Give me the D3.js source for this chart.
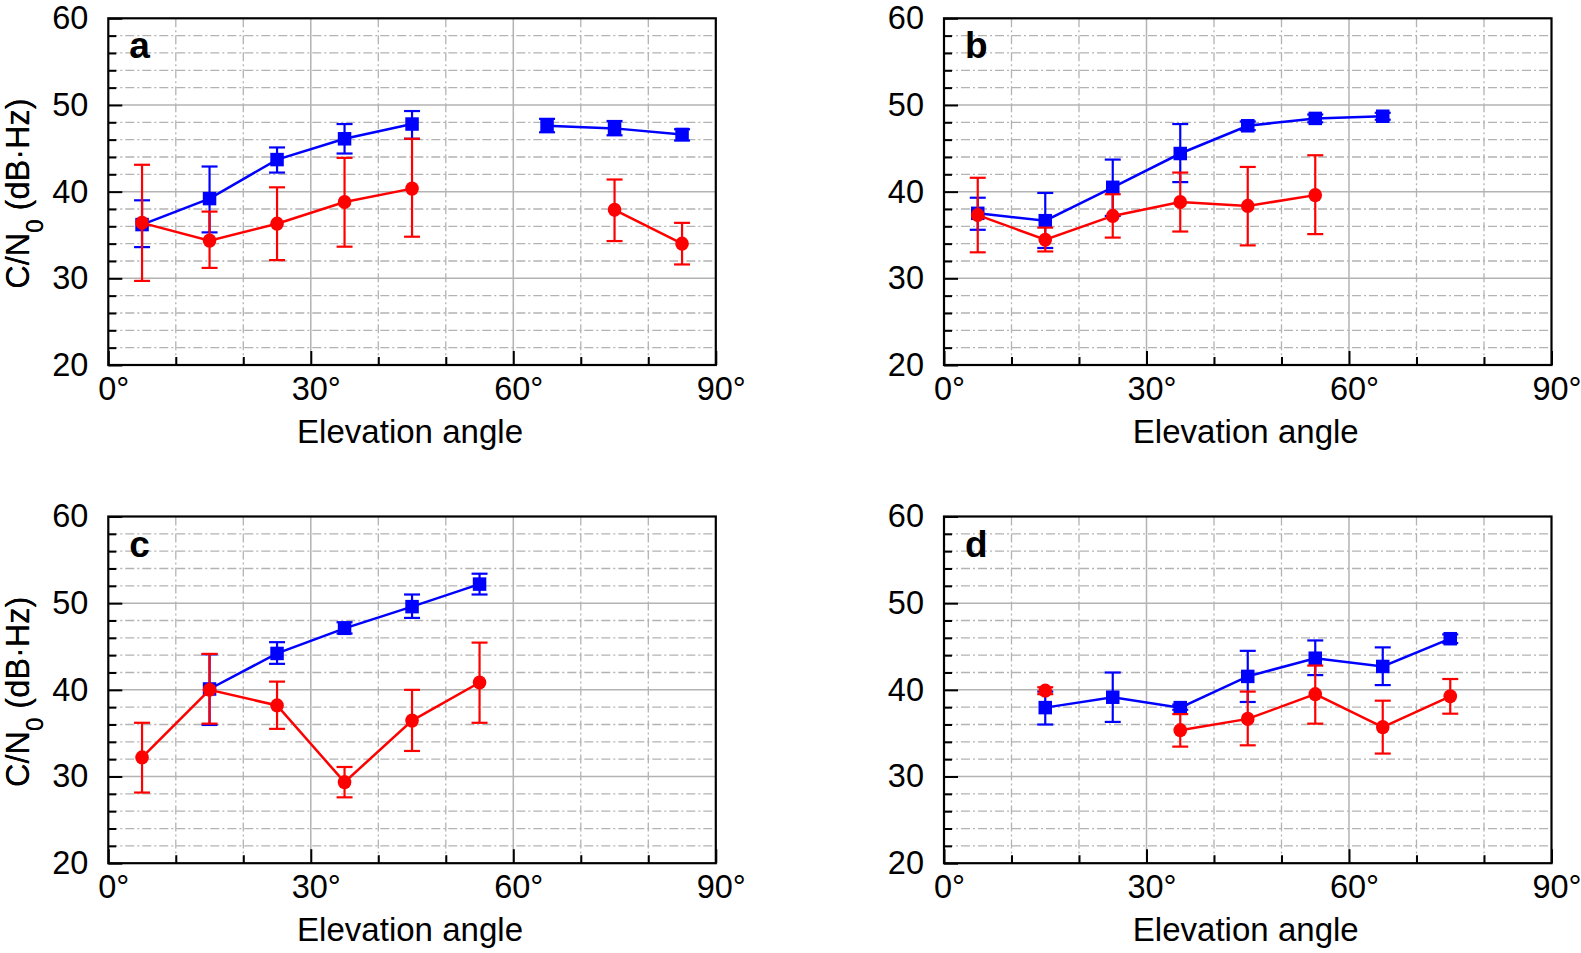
<!DOCTYPE html>
<html>
<head>
<meta charset="utf-8">
<script src="https://cdn.jsdelivr.net/npm/d3@7"></script>
<style>
  html, body { margin: 0; padding: 0; background: #fff; }
  svg { display: block; font-family: "Liberation Sans", Arial, sans-serif; }
</style>
</head>
<body>
<svg id="chart" width="1581" height="953"></svg>
<script>
// ---------- data ----------
const angles = [5, 15, 25, 35, 45, 55, 65, 75, 85];
const xTickLabels = ["0°", "30°", "60°", "90°"];
const yTickLabels = ["20", "30", "40", "50", "60"];
const panelLetters = ["a", "b", "c", "d"];

// panel a
const blueA   = [36.2, 39.2, 43.7, 46.1, 47.8, null, 47.6, 47.3, 46.6];
const blueALo = [33.6, 35.3, 42.2, 44.4, 46.1, null, 46.85, 46.5, 45.9];
const blueAHi = [39.0, 42.9, 45.1, 47.8, 49.3, null, 48.4, 48.15, 47.2];
const redA    = [36.4, 34.35, 36.3, 38.8, 40.35, null, null, 37.9, 34.0];
const redALo  = [29.7, 31.2, 32.1, 33.65, 34.8, null, null, 34.3, 31.6];
const redAHi  = [43.1, 37.7, 40.5, 43.9, 46.1, null, null, 41.4, 36.4];

// panel b
const blueB   = [37.5, 36.65, 40.5, 44.4, 47.6, 48.45, 48.7, null, null];
const blueBLo = [35.6, 33.5, 37.2, 41.1, 47.1, 48.0, 48.3, null, null];
const blueBHi = [39.3, 39.85, 43.7, 47.8, 48.1, 48.9, 49.1, null, null];
const redB    = [37.3, 34.45, 37.2, 38.8, 38.35, 39.6, null, null, null];
const redBLo  = [33.0, 33.1, 34.7, 35.4, 33.8, 35.1, null, null, null];
const redBHi  = [41.6, 35.85, 39.7, 42.2, 42.85, 44.2, null, null, null];

// panel c
const blueC   = [null, 40.1, 44.2, 47.1, 49.6, 52.2, null, null, null];
const blueCLo = [null, 35.95, 43.0, 46.5, 48.3, 51.0, null, null, null];
const blueCHi = [null, 44.1, 45.5, 47.8, 51.0, 53.4, null, null, null];
const redC    = [32.2, 40.0, 38.2, 29.35, 36.45, 40.85, null, null, null];
const redCLo  = [28.15, 36.1, 35.5, 27.6, 32.95, 36.2, null, null, null];
const redCHi  = [36.2, 44.15, 40.95, 31.1, 40.0, 45.45, null, null, null];

// panel d
const blueD   = [null, 37.95, 39.15, 37.95, 41.55, 43.65, 42.7, 45.9, null];
const blueDLo = [null, 36.0, 36.3, 37.7, 38.6, 41.7, 40.55, 45.4, null];
const blueDHi = [null, 39.8, 42.0, 38.3, 44.5, 45.7, 44.9, 46.4, null];
const redD    = [null, 39.9, null, 35.35, 36.65, 39.5, 35.7, 39.25, null];
const redDLo  = [null, 39.5, null, 33.45, 33.6, 36.1, 32.65, 37.25, null];
const redDHi  = [null, 40.3, null, 37.2, 39.8, 42.8, 38.75, 41.25, null];

// ---------- layout ----------
const panels = [
  { letter: panelLetters[0], ox: 108.3, oy: 18.3,  blue: [blueA, blueALo, blueAHi], red: [redA, redALo, redAHi] },
  { letter: panelLetters[1], ox: 944,   oy: 18.3,  blue: [blueB, blueBLo, blueBHi], red: [redB, redBLo, redBHi] },
  { letter: panelLetters[2], ox: 108.3, oy: 516.5, blue: [blueC, blueCLo, blueCHi], red: [redC, redCLo, redCHi] },
  { letter: panelLetters[3], ox: 944,   oy: 516.5, blue: [blueD, blueDLo, blueDHi], red: [redD, redDLo, redDHi] }
];
const W = 607.5, H = 346.7;
const svg = d3.select("#chart");

const x = d3.scaleLinear().domain([0, 90]).range([0, W]);
const y = d3.scaleLinear().domain([20, 60]).range([H, 0]);

const gridColor = "#b3b3b3";
const dashDot = "9,3,2,3";

panels.forEach(p => {
  const g = svg.append("g").attr("transform", `translate(${p.ox},${p.oy})`);

  // grid: vertical
  d3.range(10, 90, 10).forEach(a => {
    const major = a % 30 === 0;
    g.append("line")
      .attr("x1", x(a)).attr("x2", x(a)).attr("y1", 0).attr("y2", H)
      .attr("stroke", gridColor).attr("stroke-width", major ? 1.5 : 1.3)
      .attr("stroke-dasharray", major ? null : dashDot);
  });
  // grid: horizontal
  d3.range(22, 60, 2).forEach(v => {
    const major = v % 10 === 0;
    g.append("line")
      .attr("x1", 0).attr("x2", W).attr("y1", y(v)).attr("y2", y(v))
      .attr("stroke", gridColor).attr("stroke-width", major ? 1.5 : 1.3)
      .attr("stroke-dasharray", major ? null : dashDot);
  });

  const yMinor = g.append("g").call(
    d3.axisLeft(y).tickValues(d3.range(22, 60, 2).filter(v => v % 10 !== 0)).tickSize(-8).tickFormat(""));
  const yMajor = g.append("g").call(
    d3.axisLeft(y).tickValues([20, 30, 40, 50, 60]).tickSize(-14).tickPadding(20)
      .tickFormat((d, i) => yTickLabels[i]));
  const xMinor = g.append("g").attr("transform", `translate(0,${H})`).call(
    d3.axisBottom(x).tickValues([10, 20, 40, 50, 70, 80]).tickSize(-8).tickFormat(""));
  const xMajor = g.append("g").attr("transform", `translate(0,${H})`).call(
    d3.axisBottom(x).tickValues([0, 30, 60, 90]).tickSize(-14).tickPadding(12)
      .tickFormat((d, i) => xTickLabels[i]));

  [yMinor, yMajor, xMinor, xMajor].forEach(ax => {
    ax.select(".domain").remove();
    ax.selectAll("line").attr("stroke", "#000").attr("stroke-width", 2);
    ax.selectAll("text").attr("fill", "#000").attr("font-size", 32.5)
      .attr("font-family", "'Liberation Sans', Arial, sans-serif");
  });
  xMajor.selectAll("text").attr("dx", 5);

  // frame
  g.append("rect").attr("x", 0).attr("y", 0).attr("width", W).attr("height", H)
    .attr("fill", "none").attr("stroke", "#000").attr("stroke-width", 2.2);

  // panel letter
  g.append("text").attr("x", 21).attr("y", 40).text(p.letter)
    .attr("font-size", 37).attr("font-weight", "bold").attr("fill", "#000");

  // axis labels
  g.append("text").attr("x", W / 2 - 2).attr("y", H + 78).attr("text-anchor", "middle")
    .attr("font-size", 34).attr("textLength", 226).attr("lengthAdjust", "spacingAndGlyphs")
    .attr("fill", "#000").text("Elevation angle");

  const yl = g.append("text")
    .attr("transform", `translate(${29 - p.ox},${H / 2 + 2}) rotate(-90)`)
    .attr("text-anchor", "middle").attr("font-size", 32.5).attr("fill", "#000");
  yl.append("tspan").text("C/N");
  yl.append("tspan").attr("baseline-shift", "sub").attr("font-size", 24).text("0");
  yl.append("tspan").text(" (dB·Hz)");

  // series
  const series = [
    { vals: p.blue, color: "#0000ff", shape: "square" },
    { vals: p.red, color: "#ff0000", shape: "circle" }
  ];
  series.forEach(s => {
    const [v, lo, hi] = s.vals;
    const pts = angles.map((a, i) => ({ a, v: v[i], lo: lo[i], hi: hi[i] }));
    const line = d3.line().defined(d => d.v != null).x(d => x(d.a)).y(d => y(d.v));
    g.append("path").datum(pts).attr("d", line)
      .attr("fill", "none").attr("stroke", s.color).attr("stroke-width", 2.5);

    const valid = pts.filter(d => d.v != null);
    const eb = g.append("g").attr("stroke", s.color).attr("stroke-width", 2.2);
    valid.forEach(d => {
      eb.append("line").attr("x1", x(d.a)).attr("x2", x(d.a)).attr("y1", y(d.lo)).attr("y2", y(d.hi));
      eb.append("line").attr("x1", x(d.a) - 8).attr("x2", x(d.a) + 8).attr("y1", y(d.lo)).attr("y2", y(d.lo));
      eb.append("line").attr("x1", x(d.a) - 8).attr("x2", x(d.a) + 8).attr("y1", y(d.hi)).attr("y2", y(d.hi));
    });
    if (s.shape === "square") {
      g.selectAll(null).data(valid).enter().append("rect")
        .attr("x", d => x(d.a) - 6.75).attr("y", d => y(d.v) - 6.75)
        .attr("width", 13.5).attr("height", 13.5).attr("fill", s.color);
    } else {
      g.selectAll(null).data(valid).enter().append("ellipse")
        .attr("cx", d => x(d.a)).attr("cy", d => y(d.v))
        .attr("rx", 6.8).attr("ry", 7.1).attr("fill", s.color);
    }
  });
});
</script>
</body>
</html>
